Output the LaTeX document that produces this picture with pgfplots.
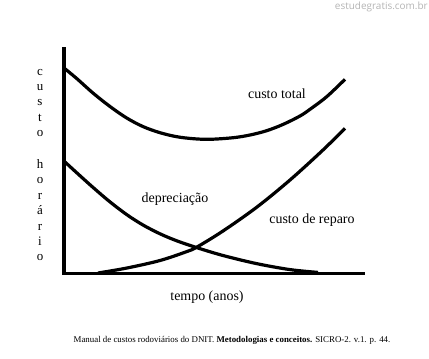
\documentclass[border=0pt]{standalone}
\usepackage{fontspec}
\setmainfont{Liberation Serif}
\newfontfamily\wmfont{Open Sans}
\usepackage{pgfplots}
\pgfplotsset{compat=1.18}
\definecolor{wm}{HTML}{B4B4B4}
\tikzset{curve/.style={line width=3.2bp, black, smooth, tension=0.55, mark=none}}
\begin{document}
\begin{tikzpicture}
\begin{axis}[
  x=1bp, y=1bp,
  xmin=64, xmax=363, ymin=85.5, ymax=310,
  axis x line=bottom, axis y line=left,
  axis line style={-, line width=3.8bp, line cap=rect},
  xtick=\empty, ytick=\empty,
  clip=false,
]
\path (axis cs:0,0) rectangle (axis cs:429,359);
% custo total
\addplot[curve] coordinates {(65,290.2) (76.7,280.5) (93.3,265.7) (110,252.5) (126.7,241) (143.3,232.3) (160,226.3) (176.7,222.3) (193.3,220.3) (210,219.7) (233.3,221.3) (250,224) (266.7,228.3) (283.3,234.7) (300,243) (310,249.7) (326.7,262.3) (345,279.7)};
% depreciacao
\addplot[curve] coordinates {(65,197) (77,186) (93,171.6) (110,157.1) (127,144.2) (143,134) (160,125.2) (177,118.1) (197,111.3) (223,103.5) (257,95.3) (290,89.4) (318,86.6)};
% custo de reparo
\addplot[curve] coordinates {(98,86) (127,91) (160,98.5) (187,107.5) (197,112) (223,128) (257,152) (290,179) (323,209) (345,230.7)};
\node[font=\fontsize{14}{16}\selectfont] at (axis cs:277,265) {custo total};
\node[font=\fontsize{14}{16}\selectfont] at (axis cs:175,160) {depreciação};
\node[font=\fontsize{14}{16}\selectfont] at (axis cs:312,139) {custo de reparo};
\node[font=\fontsize{14}{16}\selectfont] at (axis cs:207,62) {tempo (anos)};
\node[font=\fontsize{8.9}{10}\selectfont] at (axis cs:232,19) {Manual de custos rodoviários do DNIT. \textbf{Metodologias e conceitos.} SICRO-2. v.1. p. 44.};
\node[font=\wmfont\fontsize{10}{12}\selectfont, text=wm, anchor=east, inner sep=1bp] at (axis cs:429,352) {estudegratis.com.br};
% vertical y label
\node[anchor=base, font=\fontsize{13}{15}\selectfont] at (axis cs:40,284) {c};
\node[anchor=base, font=\fontsize{13}{15}\selectfont] at (axis cs:40,268.6) {u};
\node[anchor=base, font=\fontsize{13}{15}\selectfont] at (axis cs:40,253.2) {s};
\node[anchor=base, font=\fontsize{13}{15}\selectfont] at (axis cs:40,237.8) {t};
\node[anchor=base, font=\fontsize{13}{15}\selectfont] at (axis cs:40,222.4) {o};
\node[anchor=base, font=\fontsize{13}{15}\selectfont] at (axis cs:40,190.5) {h};
\node[anchor=base, font=\fontsize{13}{15}\selectfont] at (axis cs:40,175.1) {o};
\node[anchor=base, font=\fontsize{13}{15}\selectfont] at (axis cs:40,159.7) {r};
\node[anchor=base, font=\fontsize{13}{15}\selectfont] at (axis cs:40,144.3) {á};
\node[anchor=base, font=\fontsize{13}{15}\selectfont] at (axis cs:40,128.9) {r};
\node[anchor=base, font=\fontsize{13}{15}\selectfont] at (axis cs:40,113.5) {i};
\node[anchor=base, font=\fontsize{13}{15}\selectfont] at (axis cs:40,98.1) {o};
\end{axis}
\end{tikzpicture}
\end{document}
